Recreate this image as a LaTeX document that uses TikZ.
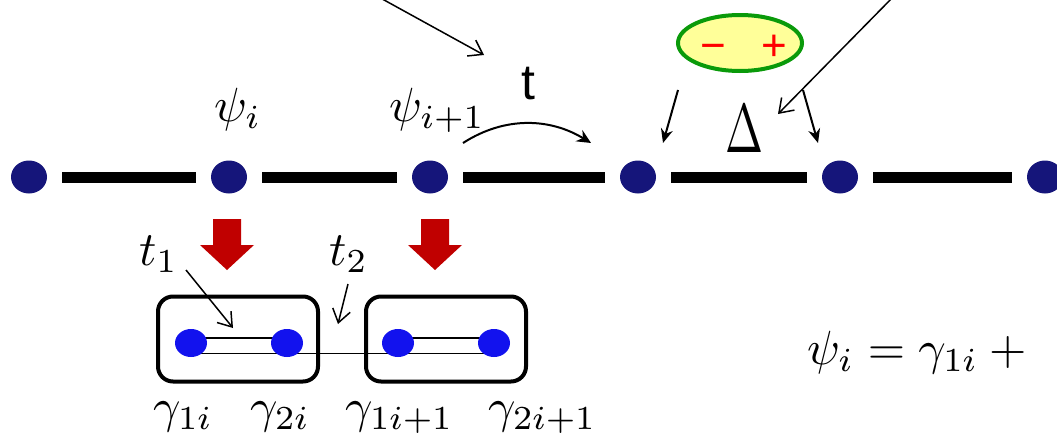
\documentclass[tikz,border=0pt]{standalone}
\usepackage{fontspec}
\usepackage{graphicx}
\newfontfamily\arialfont{Liberation Sans}
\usetikzlibrary{shapes.geometric,arrows.meta,backgrounds}
\definecolor{navy}{HTML}{15157A}
\definecolor{brightblue}{HTML}{1212EE}
\definecolor{darkred}{HTML}{C00000}
\definecolor{ringgreen}{HTML}{0A9A0A}
\definecolor{paleyellow}{HTML}{FFFF99}
\newcommand{\bigmath}[1]{\scalebox{4.8}{$#1$}}
\tikzset{
  site/.style={ellipse,fill=navy,minimum width=36pt,minimum height=33pt,inner sep=0pt},
  bond/.style={line width=11pt,shorten <=15pt,shorten >=15pt},
  orb/.style={ellipse,fill=brightblue,minimum width=32pt,minimum height=28pt,inner sep=0pt},
  cell/.style={draw,line width=4pt,rounded corners=15pt,minimum width=160pt,minimum height=85pt},
  mlabel/.style={inner sep=0pt,anchor=base west},
  thinarrow/.style={line width=1.5pt,-{Straight Barb[length=13pt,width=18pt,line width=1.5pt]}},
  fillarrow/.style={line width=2pt,-{Stealth[length=14pt,width=12pt]}},
  sign/.style={inner sep=0pt,anchor=base,text=red,font=\arialfont\fontsize{44}{50}\selectfont},
  downarrow/.style={fill=darkred}
}
\begin{document}
\begin{tikzpicture}[x=1pt,y=-1pt]
\useasboundingbox (0,0) rectangle (1057,439);

% chain of sites
\node[site] (s1) at (29,177) {};
\node[site] (s2) at (229,177) {};
\node[site] (s3) at (430,177) {};
\node[site] (s4) at (638,177) {};
\node[site] (s5) at (840,177) {};
\node[site] (s6) at (1045,177) {};
\foreach \a/\b in {s1/s2,s2/s3,s3/s4,s4/s5,s5/s6}
  \draw[bond] (\a) -- (\b);

% site labels
\node[mlabel] (psi1) at (214,121) {\bigmath{\psi_i}};
\node[mlabel] (psi2) at (389,121) {\bigmath{\psi_{i+1}}};

% hopping t
\node[inner sep=0pt,font=\arialfont\fontsize{50}{56}\selectfont] (hop) at (528,84) {t};
\coordinate (hopA) at (463,143);
\coordinate (hopB) at (591,143);
\draw[line width=2pt,-{Stealth[length=14pt,width=13pt]}] (hopA) .. controls (505,116) and (550,118) .. (hopB);

% pairing term
\node[ellipse,draw=ringgreen,line width=4pt,fill=paleyellow,minimum width=124pt,minimum height=56pt] (pair) at (740,43) {};
\node[sign] (minus) at (713,60) {\char"2212};
\node[sign] (plus) at (774,60) {+};
\coordinate (pl) at (678,90);
\coordinate (pr) at (803,90);
\coordinate (tl) at (663,143);
\coordinate (tr) at (818,143);
\draw[fillarrow] (pl) -- (tl);
\draw[fillarrow] (pr) -- (tr);
\node[mlabel] (gap) at (725,152) {\scalebox{4.56}[6.9]{$\Delta$}};

% long pointers coming from above
\coordinate (topA) at (375,-5);
\coordinate (topAend) at (484,55);
\draw[thinarrow] (topA) -- (topAend);
\coordinate (topB) at (895,-5);
\coordinate (topBend) at (778,114);
\draw[thinarrow] (topB) -- (topBend);

% mapping arrows
\foreach \x in {227,435}{
  \fill[downarrow] (\x-14,219) -- (\x+14,219) -- (\x+14,245) -- (\x+27,245)
    -- (\x,270) -- (\x-27,245) -- (\x-14,245) -- cycle;
}

% Majorana cells
\node[cell] (c1) at (238,339) {};
\node[cell] (c2) at (446,339) {};
\node[orb] (g1) at (191,343) {};
\node[orb] (g2) at (287,343) {};
\node[orb] (g3) at (398,343) {};
\node[orb] (g4) at (494,343) {};
\begin{scope}[on background layer]
  \draw[line width=1.8pt] ([yshift=-10.5pt]g1.center) -- ([yshift=-10.5pt]g4.center);
  \draw[line width=1.8pt] ([yshift=5pt]g1.center) -- ([yshift=5pt]g2.center);
  \draw[line width=1.8pt] ([yshift=5pt]g3.center) -- ([yshift=5pt]g4.center);
\end{scope}

% couplings
\node[mlabel] (t1) at (139,265) {\bigmath{t_1}};
\node[mlabel] (t2) at (329,265) {\bigmath{t_2}};
\coordinate (t1a) at (186,270);
\coordinate (t1b) at (233,328);
\coordinate (t2a) at (348,284);
\coordinate (t2b) at (338,324);
\draw[thinarrow] (t1a) -- (t1b);
\draw[thinarrow] (t2a) -- (t2b);

% Majorana labels
\node[mlabel] (l1) at (153,422) {\bigmath{\gamma_{1i}}};
\node[mlabel] (l2) at (250,422) {\bigmath{\gamma_{2i}}};
\node[mlabel] (l3) at (345,422) {\bigmath{\gamma_{1i+1}}};
\node[mlabel] (l4) at (488,422) {\bigmath{\gamma_{2i+1}}};

% decomposition
\node[mlabel] (eq) at (807,364) {\bigmath{\psi_i = \gamma_{1i} + {}}};
\end{tikzpicture}
\end{document}
